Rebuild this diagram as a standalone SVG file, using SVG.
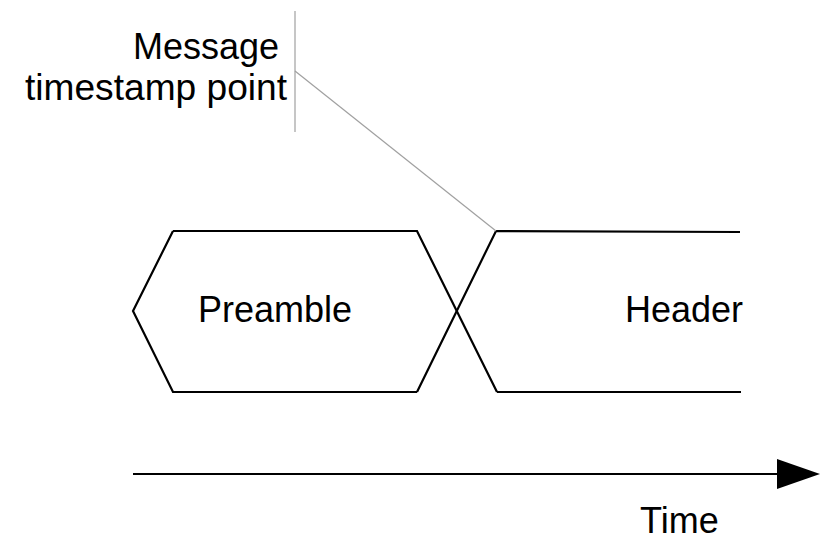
<svg xmlns="http://www.w3.org/2000/svg" width="825" height="539" viewBox="0 0 825 539">
  <style>
    .lbl { font-family: "Liberation Sans", Arial, sans-serif; font-size: 36px; fill: #000; }
    .edge { fill: none; stroke: #000; stroke-width: 2.2; stroke-linejoin: miter; }
    .callout { fill: none; stroke: #a0a0a0; stroke-width: 1.2; }
  </style>
  <defs>
    <marker id="arrowhead" markerUnits="userSpaceOnUse" markerWidth="44" markerHeight="30" refX="0" refY="15" orient="auto">
      <path d="M0,0 L43,15 L0,30 Z" fill="#000"/>
    </marker>
  </defs>
  <rect width="825" height="539" fill="#fff"/>

  <g id="timestamp-label">
    <text class="lbl" x="279" y="59" text-anchor="end">Message</text>
    <text class="lbl" x="287" y="100" text-anchor="end" textLength="262" lengthAdjust="spacingAndGlyphs">timestamp point</text>
  </g>

  <g id="preamble">
    <path class="edge" d="M173,231 L417,231 L497,392 M417,392 L173,392 L133,311 L173,231"/>
    <text class="lbl" x="198" y="322">Preamble</text>
  </g>

  <g id="header">
    <path class="edge" d="M740,232 L496,231 L417,392 M497,392 L741,392"/>
    <text class="lbl" x="743" y="322" text-anchor="end">Header</text>
  </g>

  <g id="connectors">
    <line class="callout" x1="295" y1="11" x2="295" y2="132"/>
    <line class="callout" x1="295" y1="71" x2="496" y2="231"/>
    <line class="edge" x1="133" y1="474" x2="777" y2="474" marker-end="url(#arrowhead)"/>
  </g>

  <g id="time-label">
    <text class="lbl" x="640" y="533">Time</text>
  </g>
</svg>
